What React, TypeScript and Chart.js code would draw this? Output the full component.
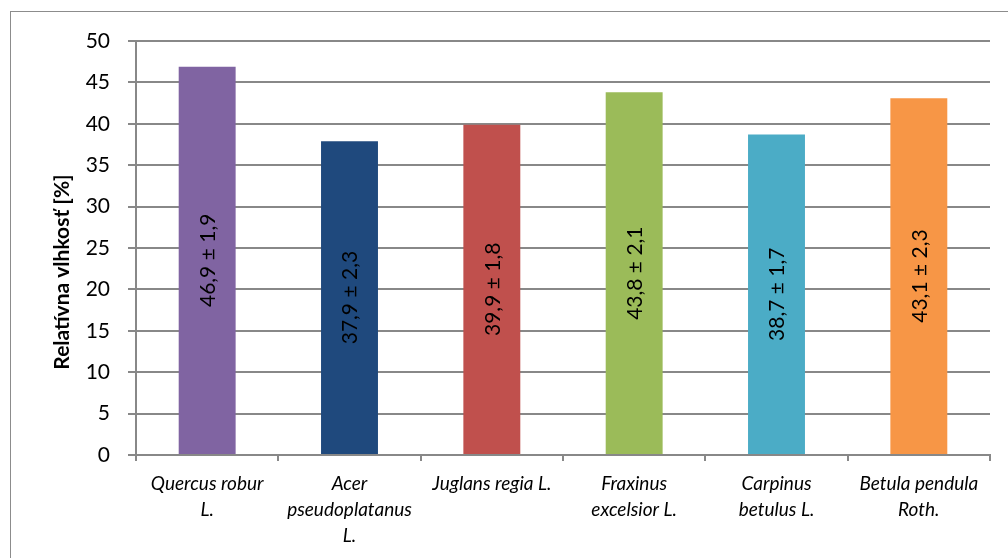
import React, { useEffect, useRef } from "react";
import { Chart, registerables } from "chart.js";

Chart.register(...registerables);

const categories: string[][] = [
  ["Quercus robur", "L."],
  ["Acer", "pseudoplatanus", "L."],
  ["Juglans regia L."],
  ["Fraxinus", "excelsior L."],
  ["Carpinus", "betulus L."],
  ["Betula pendula", "Roth."],
];
const values = [46.9, 37.9, 39.9, 43.8, 38.7, 43.1];
const deviations = ["1,9", "2,3", "1,8", "2,1", "1,7", "2,3"];
const barColors = ["#8064A2", "#1F497D", "#C0504D", "#9BBB59", "#4BACC6", "#F79646"];
const yTitle = "Relatívna vlhkosť [%]";
const yMin = 0;
const yMax = 50;
const yStep = 5;

const FONT = "Lato, 'Open Sans', sans-serif";

const fmt = (v: number) => v.toFixed(1).replace(".", ",");

const decorPlugin = {
  id: "decor",
  beforeDraw(chart: any) {
    const ctx = chart.ctx;
    ctx.save();
    ctx.strokeStyle = "#8c8c8c";
    ctx.lineWidth = 1;
    ctx.strokeRect(10.5, 11.5, 1100, 1100);
    ctx.restore();
  },
  afterDatasetsDraw(chart: any) {
    const ctx = chart.ctx;
    const meta = chart.getDatasetMeta(0);
    ctx.save();
    ctx.fillStyle = "#000";
    ctx.font = `21px ${FONT}`;
    ctx.textAlign = "center";
    ctx.textBaseline = "middle";
    meta.data.forEach((bar: any, i: number) => {
      const cy = (bar.y + bar.base) / 2;
      ctx.save();
      ctx.translate(bar.x, cy);
      ctx.rotate(-Math.PI / 2);
      ctx.fillText(`${fmt(values[i])} ± ${deviations[i]}`, 0, 1);
      ctx.restore();
    });
    // y axis title
    ctx.save();
    ctx.font = `bold 21px ${FONT}`;
    ctx.translate(62, 272);
    ctx.rotate(-Math.PI / 2);
    ctx.fillText(yTitle, 0, 0);
    ctx.restore();
    ctx.restore();
  },
};

export default function App() {
  const ref = useRef<HTMLCanvasElement>(null);
  useEffect(() => {
    if (!ref.current) return;
    const chart = new Chart(ref.current, {
      type: "bar",
      data: {
        labels: categories,
        datasets: [
          {
            data: values,
            backgroundColor: barColors,
            borderWidth: 0,
            categoryPercentage: 1,
            barPercentage: 0.4,
          },
        ],
      },
      options: {
        animation: false,
        responsive: false,
        maintainAspectRatio: false,
        layout: { padding: { left: 0, right: 18, top: 41, bottom: 0 } },
        plugins: {
          legend: { display: false },
          tooltip: { enabled: false },
        },
        scales: {
          x: {
            grid: {
              offset: true,
              drawOnChartArea: false,
              drawTicks: true,
              tickLength: 6,
              color: "#888888",
              lineWidth: 2,
            },
            border: { color: "#888888", width: 2 },
            ticks: {
              color: "#000",
              padding: 10,
              maxRotation: 0,
              autoSkip: false,
              font: { family: FONT, size: 19, style: "italic", lineHeight: 1.37 },
            },
            afterFit(scale: any) {
              scale.height = 103;
            },
          },
          y: {
            min: yMin,
            max: yMax,
            grid: {
              color: "#888888",
              lineWidth: 2,
              drawTicks: true,
              tickLength: 8,
            },
            border: { color: "#888888", width: 2 },
            ticks: {
              stepSize: yStep,
              color: "#000",
              padding: 18,
              font: { family: FONT, size: 21 },
            },
            afterFit(scale: any) {
              scale.width = 136;
            },
          },
        },
      },
      plugins: [decorPlugin],
    });
    return () => chart.destroy();
  }, []);
  return (
    <div style={{ position: "absolute", left: 0, top: 0, width: 1008, height: 558, background: "#fff" }}>
      <canvas ref={ref} width={1008} height={558} style={{ display: "block" }} />
    </div>
  );
}
